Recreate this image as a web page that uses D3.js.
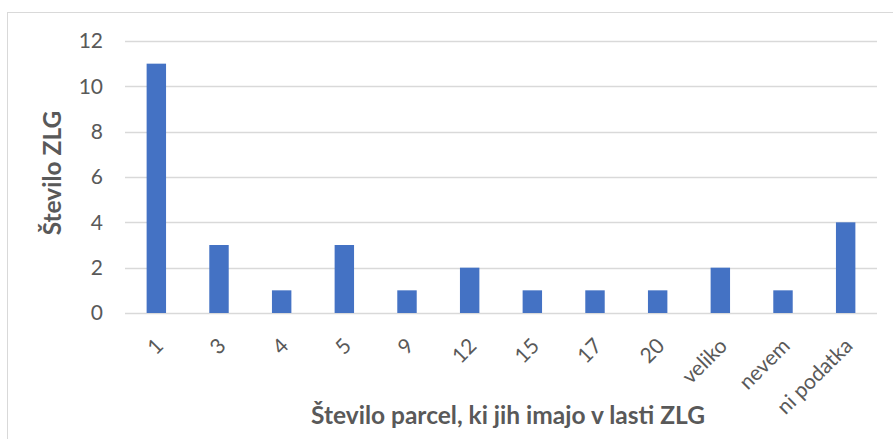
<!DOCTYPE html>
<html>
<head>
<meta charset="utf-8">
<script src="https://cdn.jsdelivr.net/npm/d3@7"></script>
<style>
  body { margin: 0; background: #fff; }
  svg text { font-family: Lato, "Liberation Sans", sans-serif; }
</style>
</head>
<body>
<div id="chart"></div>
<script>
var categories = ["1", "3", "4", "5", "9", "12", "15", "17", "20", "veliko", "nevem", "ni podatka"];
var counts = [11, 3, 1, 3, 1, 2, 1, 1, 1, 2, 1, 4];
var yTicks = [0, 2, 4, 6, 8, 10, 12];

var margin = { left: 125, right: 16, top: 41, bottom: 126 };
var fullW = 893, fullH = 439;
var width = fullW - margin.left - margin.right,
    height = fullH - margin.top - margin.bottom;

var svg = d3.select("#chart")
    .append("svg")
        .attr("width", fullW)
        .attr("height", fullH);

// chart border
svg.append("rect")
    .attr("x", 7.5)
    .attr("y", 12.5)
    .attr("width", fullW)
    .attr("height", fullH)
    .style("fill", "none")
    .style("stroke", "#d9d9d9");

var g = svg.append("g")
    .attr("transform", "translate(" + margin.left + "," + margin.top + ")");

var xScale = d3.scaleBand().domain(categories).range([0, width]).paddingInner(0.69).paddingOuter(0.345);
var yScale = d3.scaleLinear().domain([0, 12]).range([height, 0]);

// gridlines
g.selectAll(".grid")
    .data(yTicks)
    .enter()
    .append("line")
        .attr("x1", 0)
        .attr("x2", width)
        .attr("y1", function(d){ return Math.round(yScale(d)) + 0.5; })
        .attr("y2", function(d){ return Math.round(yScale(d)) + 0.5; })
        .style("stroke", "#d9d9d9")
        .style("stroke-width", 1.3);

var yaxis = d3.axisLeft(yScale).tickValues(yTicks).tickSize(0).tickPadding(22);
var yg = g.append("g").call(yaxis);
yg.select(".domain").remove();
yg.selectAll("text")
    .style("font-size", "21px")
    .style("fill", "#595959");

g.selectAll(".bar")
    .data(counts)
    .enter()
    .append("rect")
        .attr("x", function(d, i){ return xScale(categories[i]); })
        .attr("y", function(d){ return yScale(d); })
        .attr("width", xScale.bandwidth())
        .attr("height", function(d){ return height - yScale(d); })
        .style("fill", "#4472c4");

// rotated category labels
g.selectAll(".xlab")
    .data(categories)
    .enter()
    .append("text")
        .attr("transform", function(d){
            return "translate(" + (xScale(d) + xScale.bandwidth() / 2 + 3) + "," + (height + 29) + ") rotate(-45)";
        })
        .attr("text-anchor", "end")
        .attr("dy", "0.35em")
        .style("font-size", "21px")
        .style("fill", "#595959")
        .text(function(d){ return d; });

svg.append("text")
    .attr("x", 508)
    .attr("y", 424)
    .attr("text-anchor", "middle")
    .style("font-size", "24.5px")
    .style("font-weight", "bold")
    .style("fill", "#595959")
    .text("Število parcel, ki jih imajo v lasti ZLG");

svg.append("text")
    .attr("transform", "translate(61," + 173 + ") rotate(-90)")
    .attr("text-anchor", "middle")
    .style("font-size", "24.5px")
    .style("font-weight", "bold")
    .style("fill", "#595959")
    .text("Število ZLG");
</script>
</body>
</html>
